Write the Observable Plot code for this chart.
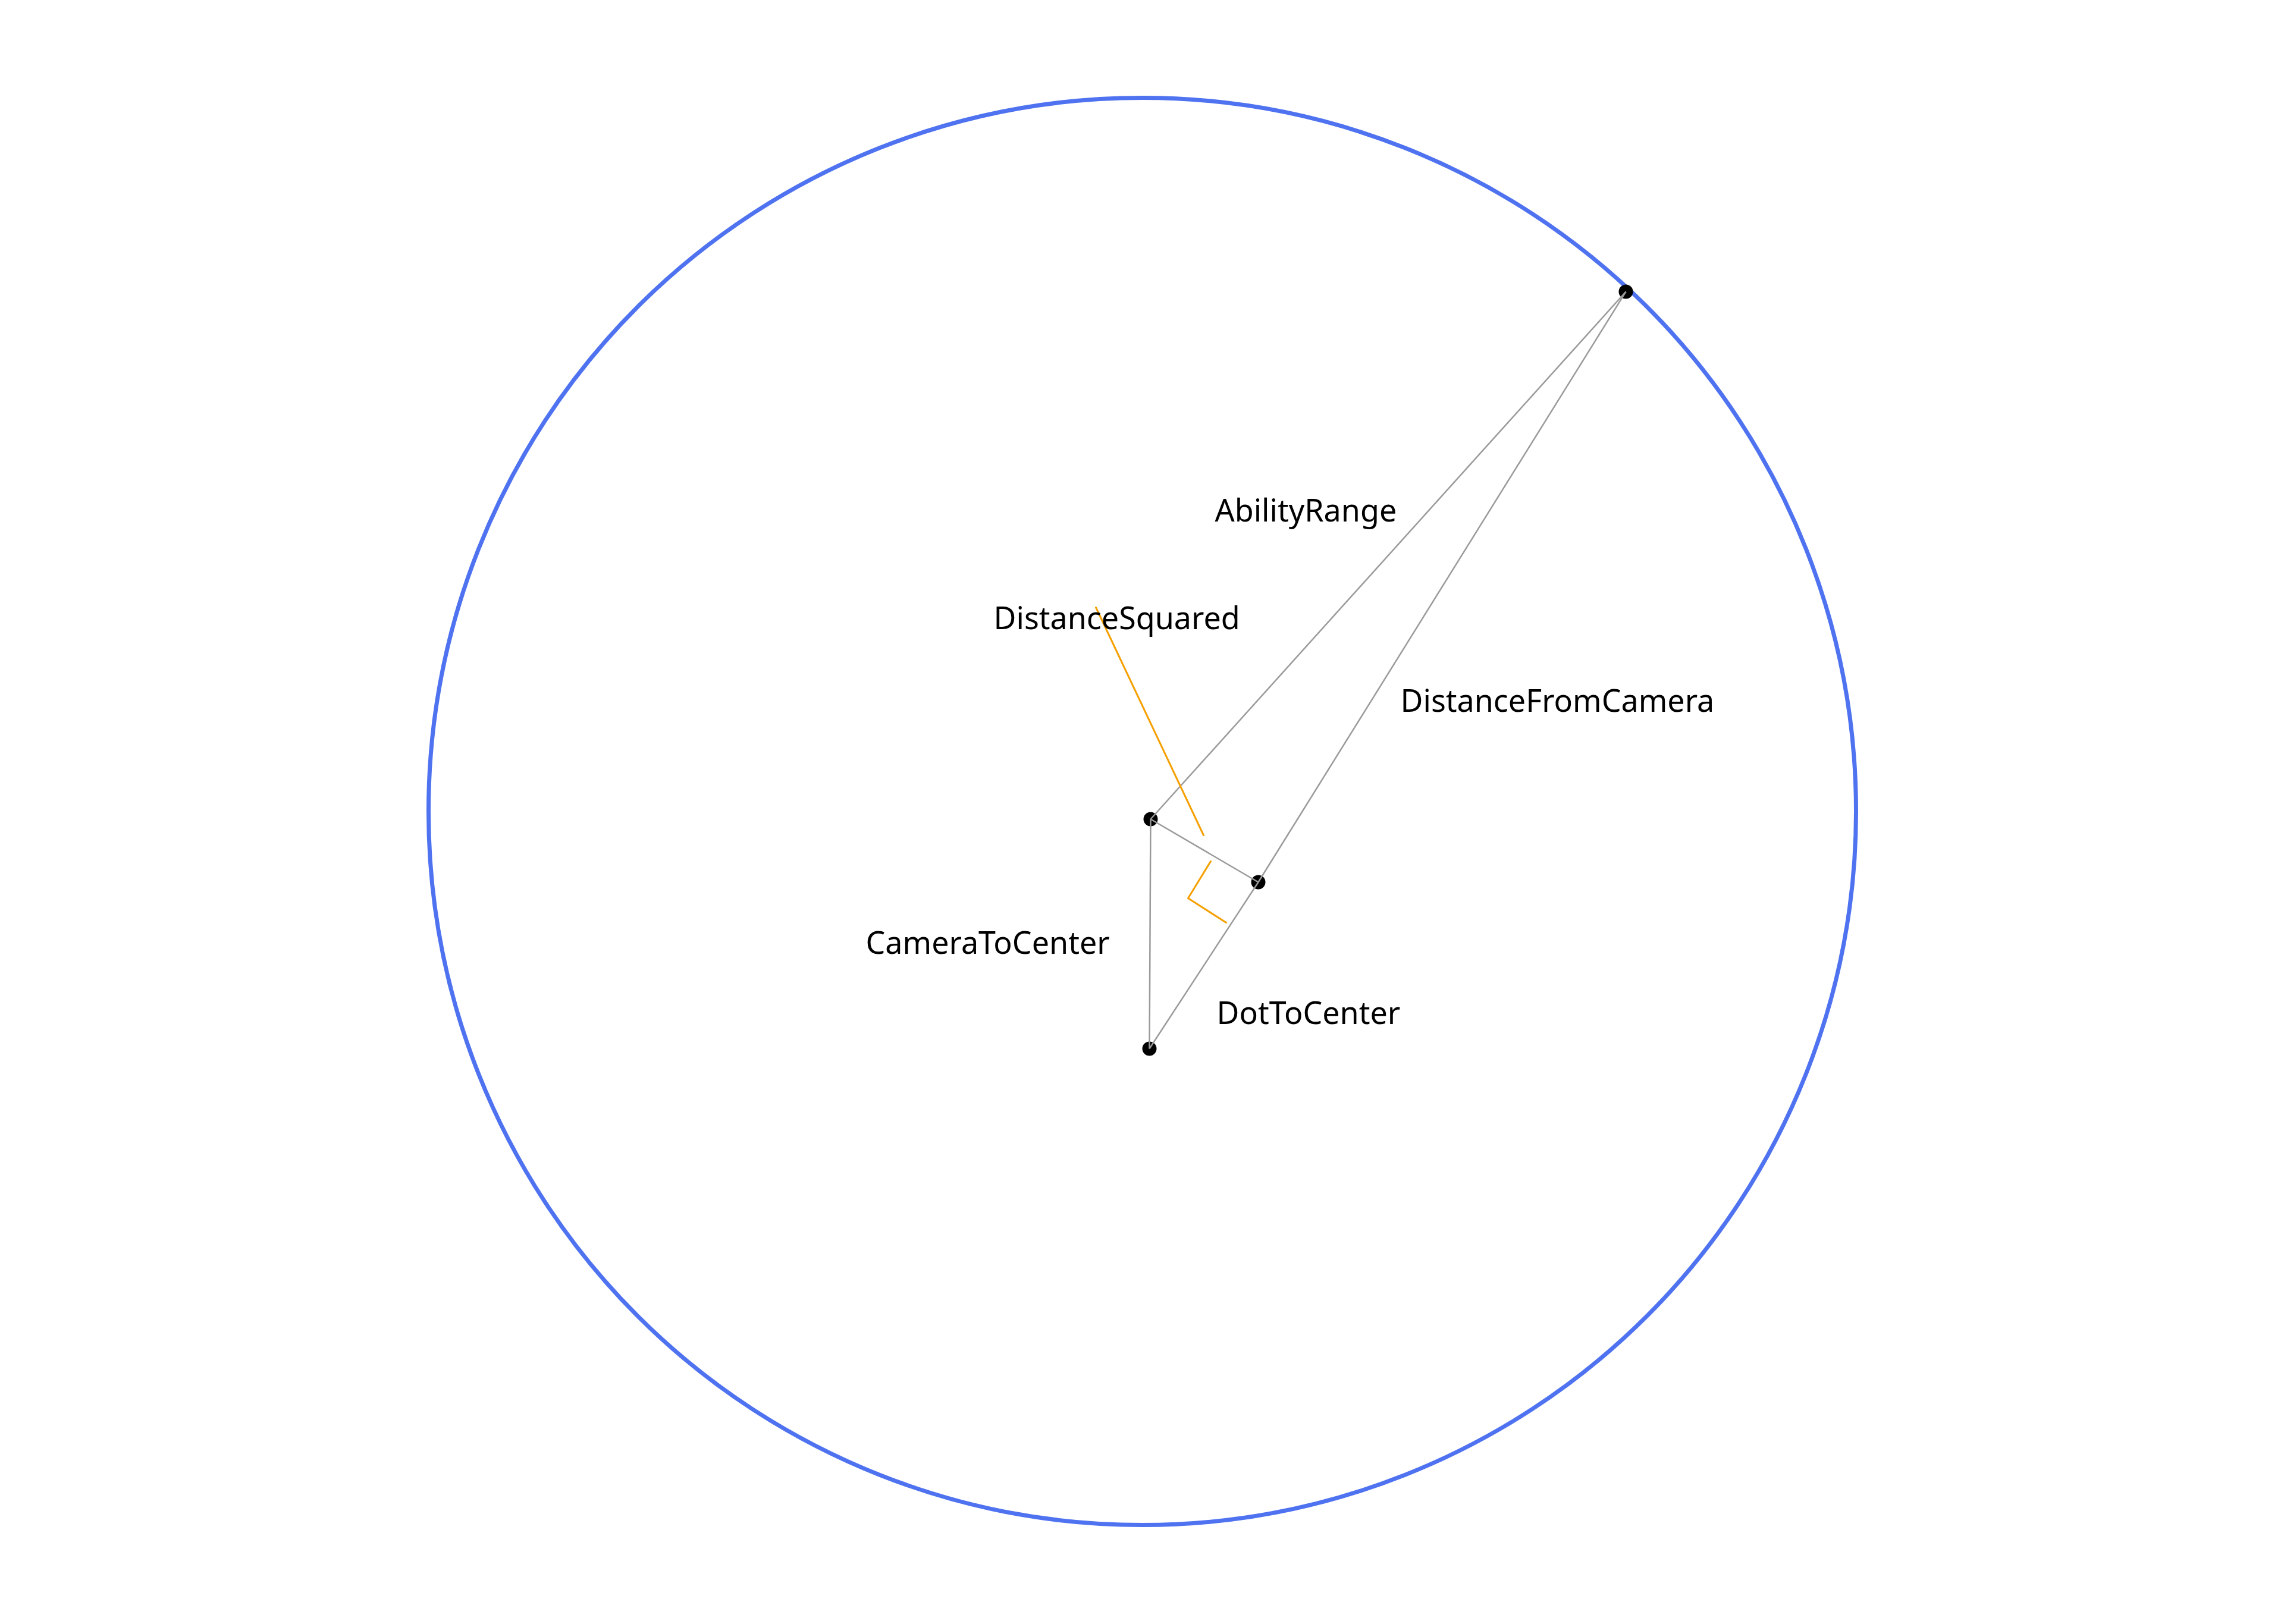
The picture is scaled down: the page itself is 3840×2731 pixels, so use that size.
<!DOCTYPE html>
<html>
<head>
<meta charset="utf-8">
<script src="https://cdn.jsdelivr.net/npm/d3@7"></script>
<script src="https://cdn.jsdelivr.net/npm/@observablehq/plot@0.6"></script>
<style>
  html, body { margin: 0; padding: 0; background: #fff; }
</style>
</head>
<body>
<div id="chart"></div>
<script>
// coordenadas relativas al centro del círculo (y hacia arriba)
let rangeRadius = 1200;
let center = [{ x: 0, y: 0 }];
let points = [
  { name: "target", x: 813, y: 874 },
  { name: "camera", x: 14, y: -13 },
  { name: "dot", x: 195, y: -119 },
  { name: "centerPt", x: 12, y: -399 }
];
let grayLinks = [
  ["camera", "target"],
  ["dot", "target"],
  ["camera", "dot"],
  ["camera", "centerPt"],
  ["centerPt", "dot"]
];
let orangeLine = [{ x: -78, y: 343 }, { x: 103, y: -40 }];
let rightAngle = [{ x: 115, y: -84 }, { x: 77, y: -146 }, { x: 141, y: -187 }];
let labels = [
  { text: "AbilityRange", x: 122, y: 504 },
  { text: "DistanceSquared", x: -250, y: 323 },
  { text: "DistanceFromCamera", x: 434, y: 184 },
  { text: "CameraToCenter", x: -465, y: -223 },
  { text: "DotToCenter", x: 125, y: -341 }
];

const byName = Object.fromEntries(points.map(d => [d.name, d]));
const links = grayLinks.map(([a, b]) => ({ x1: byName[a].x, y1: byName[a].y, x2: byName[b].x, y2: byName[b].y }));

let chart = Plot.plot({
  width: 3840,
  height: 2731,
  margin: 0,
  x: { domain: [-1920, 1920], axis: null },
  y: { domain: [-1367, 1364], axis: null },
  marks: [
    Plot.dot(center, { x: "x", y: "y", r: rangeRadius, stroke: "#4f73f0", strokeWidth: 7, fill: "none" }),
    Plot.dot(points, { x: "x", y: "y", r: 12, fill: "black" }),
    Plot.link(links, { x1: "x1", y1: "y1", x2: "x2", y2: "y2", stroke: "#9a9a9a", strokeWidth: 2.5 }),
    Plot.line(orangeLine, { x: "x", y: "y", stroke: "#f5a000", strokeWidth: 3 }),
    Plot.line(rightAngle, { x: "x", y: "y", stroke: "#f5a000", strokeWidth: 3 }),
    Plot.text(labels, { x: "x", y: "y", text: "text", textAnchor: "start", fontSize: 52, fill: "black", fontFamily: "Noto Sans" })
  ]
});

d3.select("#chart").append(() => chart);
</script>
</body>
</html>
